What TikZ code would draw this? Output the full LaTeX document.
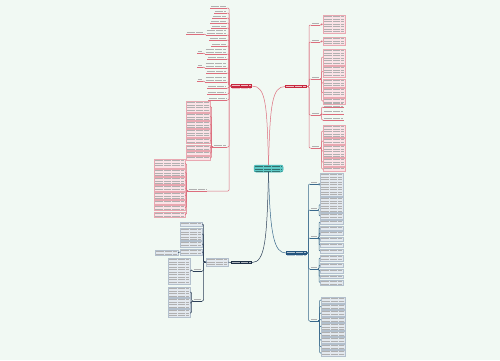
\documentclass[tikz,border=0pt]{standalone}
\usetikzlibrary{calc}
\definecolor{bg}{HTML}{F1F9F3}
\definecolor{redbox}{HTML}{C8283E}
\definecolor{redln}{HTML}{DD6E7D}
\definecolor{pinkf}{HTML}{FBE3E7}
\definecolor{pinkd}{HTML}{E9A8B1}
\definecolor{bluef}{HTML}{E3E9EF}
\definecolor{blued}{HTML}{B3C0CD}
\definecolor{brln}{HTML}{3A6A8C}
\definecolor{brbox}{HTML}{24557E}
\definecolor{blln}{HTML}{2C3F57}
\definecolor{blbox}{HTML}{1D2F45}
\definecolor{tealf}{HTML}{5CC9C6}
\definecolor{teald}{HTML}{3DAFAC}
\definecolor{txt}{HTML}{B0B0B0}
\tikzset{
 tex/.style={path picture={\foreach \k in {0,...,30}{\draw[#1,line width=0.5pt,dash pattern=on 5pt off 0.6pt on 3pt off 0.6pt on 7pt off 0.6pt] ([xshift=0.8pt,yshift={-1.5pt-\k*2.5pt}]path picture bounding box.north west) -- ([xshift=-0.8pt,yshift={-1.5pt-\k*2.5pt}]path picture bounding box.north east);}}},
 pinkbox/.style={draw=pinkd,fill=pinkf,line width=0.4pt,tex=txt},
 bluebox/.style={draw=blued,fill=bluef,line width=0.4pt,tex=txt},
 plain/.style={tex=txt},
 centerbox/.style={draw=teald,fill=tealf,rounded corners=2pt,line width=0.5pt,tex=black!45!tealf},
 redmain/.style={fill=redbox,tex=white!70!redbox},
 brmain/.style={fill=brbox,tex=white!65!brbox},
 blmain/.style={fill=blbox,tex=white!65!blbox},
 rl/.style={redln,line width=0.5pt,rounded corners=1pt},
 brl/.style={brln,line width=0.5pt,rounded corners=1pt},
 bll/.style={blln,line width=0.5pt,rounded corners=1pt},
}
\newcommand\bx[6]{\node[#2,anchor=north west,inner sep=0pt,outer sep=0pt,minimum width={#5-#3},minimum height={#6-#4}] (#1) at (#3,#4) {};}
\newcommand\ul[6]{\bx{#1}{plain}{#2}{#3}{#4}{#5}\draw[#6,line width=0.5pt] (#1.south west) -- (#1.south east);}
\begin{document}
\begin{tikzpicture}[x=1pt,y=-1pt]
\fill[bg] (0,0) rectangle (500,360);
\useasboundingbox (0,0) rectangle (500,360);
% center
\bx{C}{centerbox}{254}{165}{283}{172}
% main branches
\bx{R1}{redmain}{231}{84}{252}{88}
\bx{R2}{redmain}{285}{85}{307}{88}
\bx{B1}{brmain}{286}{251}{307}{255}
\bx{B2}{blmain}{231}{261}{252}{264}
\draw[rl] (C.north) .. controls (267,105) and (266,86) .. (R1.east);
\draw[rl] (C.north) .. controls (270,105) and (272,86.5) .. (R2.west);
\draw[brl] (C.south) .. controls (270,235) and (274,253) .. (B1.west);
\draw[bll] (C.south) .. controls (267,240) and (265,262.5) .. (B2.east);
% ---------- TL branch
\coordinate (tTL) at (229,86);
\foreach \i/\xa/\ya/\yb in {1/210/5/8, 2/214/10/13, 3/212/15/18, 4/210/20/23, 5/211/25/28, 6/206/29/35, 7/209/37/40, 8/211/43/46, 9/205/48/54, 10/207/56/59, 11/205/62/68, 12/206/70/73, 13/205/76/82, 14/207/85/88, 15/207/91/94, 16/208/97/100}{
  \ul{tl\i}{\xa}{\ya}{227}{\yb}{redln}
  \draw[rl] (R1.west) -- (tTL) |- (tl\i.south east);
}
\ul{tl6a}{186}{31}{204}{34}{redln}
\ul{tl9a}{197}{50}{203}{53}{redln}
\ul{tl11a}{197}{64}{203}{67}{redln}
\ul{tl13a}{197}{78}{203}{81}{redln}
\foreach \p in {6,9,11,13}{\draw[rl] (tl\p a.south east) -- (tl\p.south west);}
\ul{n1}{213}{144}{227}{147}{redln}
\draw[rl] (tTL) |- (n1.south east);
\foreach \i/\ya/\yb in {1/101/112, 2/113/120, 3/121/128, 4/129/137, 5/138/143, 6/145/150, 7/151/155, 8/156/160}{
  \bx{na\i}{pinkbox}{186}{\ya}{210}{\yb}
  \draw[rl] (n1.south west) -- ++(-1.5,0) |- (na\i.east);
}
\ul{n2}{188}{188}{207}{191}{redln}
\draw[rl] (tTL) |- (n2.south east);
\foreach \i/\ya/\yb in {1/159/168, 2/169/176, 3/177/184, 4/185/191, 5/192/199, 6/200/204, 7/205/210, 8/212/217}{
  \bx{nb\i}{pinkbox}{154}{\ya}{185}{\yb}
  \draw[rl] (n2.south west) -- ++(-1.5,0) |- (nb\i.east);
}
% ---------- TR branch
\coordinate (tTR) at (309,86.5);
\foreach \n/\ya in {1/22, 2/39, 3/76, 4/112, 5/145}{
  \pgfmathtruncatemacro\yb{\ya+3}
  \ul{s\n}{311}{\ya}{320}{\yb}{redln}
  \draw[rl] (R2.east) -- (tTR) |- (s\n.south west);
}
\foreach \p/\i/\ya/\yb in {1/1/15/33, 2/1/37/45, 3/1/49/65, 3/2/66/77, 3/3/79/87, 3/4/88/97, 3/5/98/104, 5/1/125/137, 5/2/138/144, 5/3/145/157, 5/4/158/166, 5/5/167/171}{
  \bx{sb\p\i}{pinkbox}{323}{\ya}{345}{\yb}
  \draw[rl] (s\p.south east) -- ++(1.5,0) |- (sb\p\i.west);
}
\foreach \i/\ya/\yb in {1/102/107, 2/110/114, 3/117/120}{
  \ul{sc\i}{323}{\ya}{344}{\yb}{redln}
  \draw[rl] (s4.south east) -- ++(1.5,0) |- (sc\i.south west);
}
% ---------- BR branch
\coordinate (tBR) at (308.5,253);
\foreach \n/\ya in {1/181, 2/207, 3/235, 4/266, 5/318}{
  \pgfmathtruncatemacro\yb{\ya+3}
  \ul{t\n}{310}{\ya}{318}{\yb}{brln}
  \draw[brl] (B1.east) -- (tBR) |- (t\n.south west);
}
\foreach \p/\i/\ya/\yb in {1/1/173/196, 2/1/197/212, 2/2/213/219, 3/1/220/224, 3/2/226/230, 3/3/231/235, 3/4/237/241, 3/5/243/247, 3/6/249/253, 4/1/255/261, 4/2/263/267, 4/3/269/273, 4/4/275/278, 4/5/280/285}{
  \bx{tb\p\i}{bluebox}{320}{\ya}{343}{\yb}
  \draw[brl] (t\p.south east) -- ++(1,0) |- (tb\p\i.west);
}
\foreach \i/\ya/\yb in {1/297/303, 2/304/309, 3/310/316, 4/317/322, 5/323/330, 6/331/336, 7/337/343, 8/344/349, 9/350/356}{
  \bx{tb5\i}{bluebox}{321}{\ya}{345}{\yb}
  \draw[brl] (t5.south east) -- ++(1.5,0) |- (tb5\i.west);
}
% ---------- BL branch
\bx{G}{bluebox}{206}{258}{228}{266}
\draw[bll] (B2.west) -- (G.east);
\coordinate (tBL) at (203.5,262);
\foreach \i/\ya/\yb in {1/222/226, 2/228/240, 3/241/247, 4/249/255}{
  \bx{bi\i}{bluebox}{180}{\ya}{202}{\yb}
  \draw[bll] (G.west) -- (tBL) |- (bi\i.east);
}
\bx{bi4a}{bluebox}{155}{250}{178}{255}
\draw[bll] (bi4.west) -- (bi4a.east);
\ul{bl5}{193}{268}{202}{271}{blln}
\ul{bl6}{193}{298}{202}{301}{blln}
\draw[bll] (G.west) -- (tBL) |- (bl5.south east);
\draw[bll] (G.west) -- (tBL) |- (bl6.south east);
\bx{bc1}{bluebox}{168}{258}{190}{284}
\draw[bll] (bl5.south west) -- ++(-1.5,0) |- (bc1.east);
\foreach \i/\ya/\yb in {1/287/297, 2/298/308, 3/309/317}{
  \bx{bd\i}{bluebox}{168}{\ya}{190}{\yb}
  \draw[bll] (bl6.south west) -- ++(-1.5,0) |- (bd\i.east);
}
\end{tikzpicture}
\end{document}
